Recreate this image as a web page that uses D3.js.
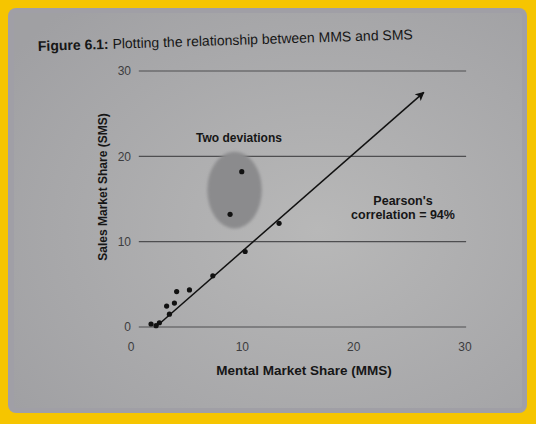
<!DOCTYPE html>
<html>
<head>
<meta charset="utf-8">
<script src="https://cdn.jsdelivr.net/npm/d3@7"></script>
<style>
  html, body { margin: 0; padding: 0; background: #f6c500; }
  svg { display: block; font-family: "Liberation Sans", Arial, sans-serif; }
  .grid line { stroke: #4e4e50; stroke-width: 1.1; }
  .tick-label { font-size: 12px; fill: #3c3c3e; }
  .bold-text { font-weight: bold; fill: #161616; }
</style>
</head>
<body>
<div id="chart"></div>
<script>
// ----------------------------------------------------------
// Data (MMS on x, SMS on y)
// ----------------------------------------------------------
const mmsValues = [1.8, 2.25, 2.55, 3.45, 3.2, 3.9, 4.1, 5.25, 7.35, 10.25, 13.3, 8.9, 9.95];
const smsValues = [0.35, 0.15, 0.5, 1.5, 2.45, 2.8, 4.15, 4.35, 6.0, 8.85, 12.15, 13.2, 18.2];

const xTicks = [0, 10, 20, 30];
const yTicks = [0, 10, 20, 30];

// fitted trend line (start, arrow tip) in data units
const fitStart = [2.4, 0.2];
const fitEnd = [26.3, 27.5];

// shaded "two deviations" region: centre and radii in data units
const outlierCentre = [9.3, 16.05];
const outlierRadii = [2.45, 4.5];

const titleBold = 'Figure 6.1:';
const titleRest = ' Plotting the relationship between MMS and SMS';
const xLabel = 'Mental Market Share (MMS)';
const yLabel = 'Sales Market Share (SMS)';
const noteDeviation = 'Two deviations';
const noteCorrelation = ["Pearson's", 'correlation = 94%'];

// ----------------------------------------------------------
// Layout
// ----------------------------------------------------------
const W = 536;
const H = 424;

const svg = d3.select('#chart')
  .append('svg')
  .attr('width', W)
  .attr('height', H);

const defs = svg.append('defs');

// photographed page: slightly darker towards the left edge
const grad = defs.append('radialGradient')
  .attr('id', 'paper')
  .attr('cx', '0.6').attr('cy', '0.55').attr('r', '0.75');
grad.append('stop').attr('offset', '0%').attr('stop-color', '#b8b8b8');
grad.append('stop').attr('offset', '100%').attr('stop-color', '#a0a0a3');

defs.append('filter')
  .attr('id', 'soft')
  .append('feGaussianBlur')
  .attr('stdDeviation', 1.8);

defs.append('marker')
  .attr('id', 'arrow')
  .attr('viewBox', '0 0 10 10')
  .attr('refX', 9)
  .attr('refY', 5)
  .attr('markerWidth', 9)
  .attr('markerHeight', 9)
  .attr('markerUnits', 'userSpaceOnUse')
  .attr('orient', 'auto')
  .append('path')
  .attr('d', 'M0,0 L10,5 L0,10 L2.5,5 Z')
  .attr('fill', '#111');

// yellow frame + page
svg.append('rect')
  .attr('width', W).attr('height', H)
  .attr('fill', '#f6c500');

svg.append('rect')
  .attr('x', 8).attr('y', 8)
  .attr('width', 519).attr('height', 405)
  .attr('rx', 8)
  .attr('fill', '#a09fa6');

svg.append('rect')
  .attr('x', 14).attr('y', 13)
  .attr('width', 508).attr('height', 395)
  .attr('rx', 3)
  .attr('fill', 'url(#paper)');

// ----------------------------------------------------------
// Scales
// ----------------------------------------------------------
const x = d3.scaleLinear().domain([0, 30]).range([131, 465]);
const y = d3.scaleLinear().domain([0, 30]).range([327, 71]);

// horizontal grid lines at each y tick
svg.append('g')
  .attr('class', 'grid')
  .selectAll('line')
  .data(yTicks)
  .enter()
  .append('line')
  .attr('x1', x(0.7))
  .attr('x2', x(30.1))
  .attr('y1', (d) => y(d))
  .attr('y2', (d) => y(d));

// y tick labels
svg.append('g')
  .selectAll('text')
  .data(yTicks)
  .enter()
  .append('text')
  .attr('class', 'tick-label')
  .attr('x', x(0))
  .attr('y', (d) => y(d))
  .attr('dy', '0.35em')
  .attr('text-anchor', 'end')
  .text((d) => d);

// x tick labels
svg.append('g')
  .selectAll('text')
  .data(xTicks)
  .enter()
  .append('text')
  .attr('class', 'tick-label')
  .attr('x', (d) => x(d))
  .attr('y', y(0) + 24)
  .attr('text-anchor', 'middle')
  .text((d) => d);

// shaded region around the two outliers
svg.append('ellipse')
  .attr('cx', x(outlierCentre[0]))
  .attr('cy', y(outlierCentre[1]))
  .attr('rx', x(outlierRadii[0]) - x(0))
  .attr('ry', y(0) - y(outlierRadii[1]))
  .attr('fill', '#8b8b8d')
  .attr('filter', 'url(#soft)');

// trend line with arrow
svg.append('line')
  .attr('x1', x(fitStart[0]))
  .attr('y1', y(fitStart[1]))
  .attr('x2', x(fitEnd[0]))
  .attr('y2', y(fitEnd[1]))
  .attr('stroke', '#111')
  .attr('stroke-width', 1.5)
  .attr('marker-end', 'url(#arrow)');

// data points
svg.append('g')
  .selectAll('circle')
  .data(mmsValues.map((v, i) => ({ mms: v, sms: smsValues[i] })))
  .enter()
  .append('circle')
  .attr('cx', (d) => x(d.mms))
  .attr('cy', (d) => y(d.sms))
  .attr('r', 2.6)
  .attr('fill', '#111');

// ----------------------------------------------------------
// Text
// ----------------------------------------------------------
const title = svg.append('text')
  .attr('x', 38)
  .attr('y', 51)
  .attr('transform', 'rotate(-1.8, 38, 51)')
  .attr('font-size', 14)
  .attr('fill', '#161616');
title.append('tspan').attr('font-weight', 'bold').text(titleBold);
title.append('tspan').text(titleRest);

svg.append('text')
  .attr('class', 'bold-text')
  .attr('transform', 'translate(107,187) rotate(-90)')
  .attr('text-anchor', 'middle')
  .attr('font-size', 12)
  .text(yLabel);

svg.append('text')
  .attr('class', 'bold-text')
  .attr('x', 304)
  .attr('y', 375)
  .attr('text-anchor', 'middle')
  .attr('font-size', 13.5)
  .text(xLabel);

svg.append('text')
  .attr('class', 'bold-text')
  .attr('x', 239)
  .attr('y', 142)
  .attr('text-anchor', 'middle')
  .attr('font-size', 12)
  .text(noteDeviation);

svg.append('text')
  .attr('class', 'bold-text')
  .attr('text-anchor', 'middle')
  .attr('font-size', 12.5)
  .selectAll('tspan')
  .data(noteCorrelation)
  .enter()
  .append('tspan')
  .attr('x', 403)
  .attr('y', (d, i) => 205 + i * 14)
  .text((d) => d);
</script>
</body>
</html>
